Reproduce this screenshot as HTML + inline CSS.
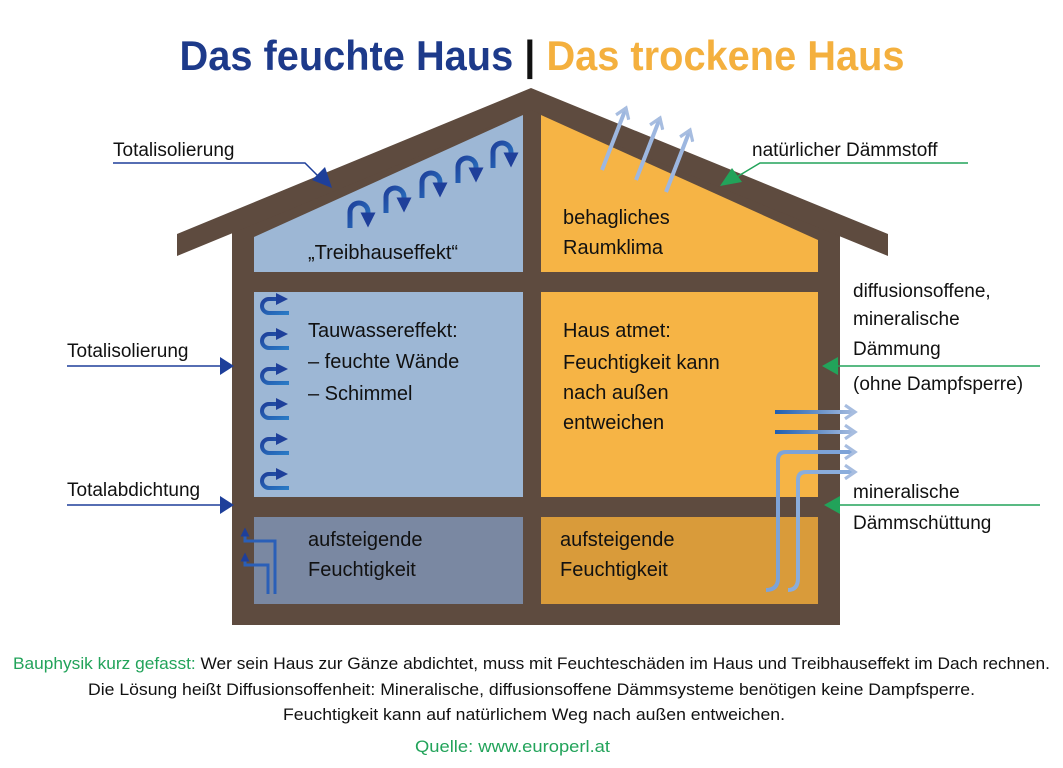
<!DOCTYPE html>
<html><head><meta charset="utf-8"><style>
html,body{margin:0;padding:0;background:#fff;}
svg{display:block;}
text{font-family:"Liberation Sans",sans-serif;}
</style></head><body>
<svg width="1063" height="768" viewBox="0 0 1063 768" xmlns="http://www.w3.org/2000/svg">
<defs>
<linearGradient id="gb" gradientUnits="userSpaceOnUse" x1="775" y1="0" x2="855" y2="0"><stop offset="0" stop-color="#1f5fb0"/><stop offset="1" stop-color="#a7bde0"/></linearGradient>
<linearGradient id="gc" x1="0" y1="0" x2="1" y2="1"><stop offset="0" stop-color="#1e3f9a"/><stop offset="1" stop-color="#2a7bc6"/></linearGradient>
<marker id="ac" markerWidth="3" markerHeight="3" refX="1.5" refY="1.5" orient="auto" markerUnits="strokeWidth"><path d="M0,0 L3,1.5 L0,3 Z" fill="#1e3f9a"/></marker>
<marker id="al" markerWidth="4" markerHeight="4" refX="3" refY="2" orient="auto" markerUnits="strokeWidth"><path d="M0.5,0.3 L3,2 L0.5,3.7" fill="none" stroke="#a7bde0" stroke-width="0.8"/></marker>
</defs>

<text x="542" y="70" text-anchor="middle" font-size="42" font-weight="bold" textLength="725" lengthAdjust="spacingAndGlyphs"><tspan fill="#1d3a8a">Das feuchte Haus </tspan><tspan fill="#111">| </tspan><tspan fill="#f4b03e">Das trockene Haus</tspan></text>

<polygon points="232,225 531,100 840,225 840,625 232,625" fill="#5e4b3f"/>
<polygon points="177,234 531,88 888,234 888,256 531,110 177,256" fill="#5e4b3f"/>
<polygon points="254,237 523,115 523,272 254,272" fill="#9db7d5"/>
<polygon points="541,115 818,240 818,272 541,272" fill="#f6b445"/>
<rect x="254" y="292" width="269" height="205" fill="#9db7d5"/>
<rect x="541" y="292" width="277" height="205" fill="#f6b445"/>
<rect x="254" y="517" width="269" height="87" fill="#7a88a2"/>
<rect x="541" y="517" width="277" height="87" fill="#d99b3a"/>

<g fill="none" stroke="url(#gc)" stroke-width="5">
<path d="M350,228 L350,212 A9,9 0 0 1 368,212 L368,220" marker-end="url(#ac)"/>
<path d="M386,213 L386,197 A9,9 0 0 1 404,197 L404,205" marker-end="url(#ac)"/>
<path d="M422,198 L422,182 A9,9 0 0 1 440,182 L440,190" marker-end="url(#ac)"/>
<path d="M458,183 L458,167 A9,9 0 0 1 476,167 L476,175" marker-end="url(#ac)"/>
<path d="M493,168 L493,152 A9,9 0 0 1 511,152 L511,160" marker-end="url(#ac)"/>
</g>
<g fill="none" stroke="url(#gc)" stroke-width="4">
<path d="M289,313 L269,313 A7,7 0 0 1 269,299 L282,299" marker-end="url(#ac)"/>
<path d="M289,348 L269,348 A7,7 0 0 1 269,334 L282,334" marker-end="url(#ac)"/>
<path d="M289,383 L269,383 A7,7 0 0 1 269,369 L282,369" marker-end="url(#ac)"/>
<path d="M289,418 L269,418 A7,7 0 0 1 269,404 L282,404" marker-end="url(#ac)"/>
<path d="M289,453 L269,453 A7,7 0 0 1 269,439 L282,439" marker-end="url(#ac)"/>
<path d="M289,488 L269,488 A7,7 0 0 1 269,474 L282,474" marker-end="url(#ac)"/>
</g>
<g fill="none" stroke="#2a5fb8" stroke-width="3">
<path d="M275,594 L275,541 L245,541 L245,532" marker-end="url(#ac)"/>
<path d="M268,594 L268,565 L245,565 L245,557" marker-end="url(#ac)"/>
</g>

<g fill="none" stroke="#9db7e0" stroke-width="4">
<path d="M602,170 L626,108" marker-end="url(#al)"/>
<path d="M636,180 L660,118" marker-end="url(#al)"/>
<path d="M666,192 L690,130" marker-end="url(#al)"/>
</g>
<g fill="none" stroke-width="4">
<path d="M775,412 L855,412" stroke="url(#gb)" marker-end="url(#al)"/>
<path d="M775,432 L855,432" stroke="url(#gb)" marker-end="url(#al)"/>
<path d="M766,590 Q778,590 778,578 L778,460 Q778,452 786,452 L855,452" stroke="#7da3d8" marker-end="url(#al)"/>
<path d="M788,590 Q798,590 798,578 L798,480 Q798,472 806,472 L855,472" stroke="#8aaddc" marker-end="url(#al)"/>
</g>

<g stroke="#1e3f9a" stroke-width="1.5" fill="none">
<path d="M113,163 L305,163 L322,180"/>
<path d="M67,366 L222,366"/>
<path d="M67,505 L222,505"/>
</g>
<polygon points="332,188 312,180 325,167" fill="#1e3f9a"/>
<polygon points="234,366 220,357 220,375" fill="#1e3f9a"/>
<polygon points="234,505 220,496 220,514" fill="#1e3f9a"/>
<g stroke="#22a35a" stroke-width="1.5" fill="none">
<path d="M968,163 L760,163 L735,178"/>
<path d="M1040,366 L835,366"/>
<path d="M1040,505 L835,505"/>
</g>
<polygon points="720,186 732,168 742,182" fill="#22a35a"/>
<polygon points="822,366 838,357 838,375" fill="#22a35a"/>
<polygon points="824,505 840,496 840,514" fill="#22a35a"/>

<g font-size="19" fill="#111">
<text x="113" y="156">Totalisolierung</text>
<text x="67" y="357">Totalisolierung</text>
<text x="67" y="496">Totalabdichtung</text>
<text x="752" y="156">natürlicher Dämmstoff</text>
<text x="853" y="297">diffusionsoffene,</text>
<text x="853" y="325">mineralische</text>
<text x="853" y="355">Dämmung</text>
<text x="853" y="390">(ohne Dampfsperre)</text>
<text x="853" y="498">mineralische</text>
<text x="853" y="529">Dämmschüttung</text>
</g>
<g font-size="20" fill="#111">
<text x="308" y="259">„Treibhauseffekt“</text>
<text x="563" y="224">behagliches</text>
<text x="563" y="254">Raumklima</text>
<text x="308" y="337">Tauwassereffekt:</text>
<text x="308" y="368">– feuchte Wände</text>
<text x="308" y="400">– Schimmel</text>
<text x="563" y="337">Haus atmet:</text>
<text x="563" y="369">Feuchtigkeit kann</text>
<text x="563" y="399">nach außen</text>
<text x="563" y="429">entweichen</text>
<text x="308" y="546">aufsteigende</text>
<text x="308" y="576">Feuchtigkeit</text>
<text x="560" y="546">aufsteigende</text>
<text x="560" y="576">Feuchtigkeit</text>
</g>

<g font-size="17" fill="#111">
<text x="13" y="669" textLength="1037" lengthAdjust="spacingAndGlyphs"><tspan fill="#22a35a">Bauphysik kurz gefasst:</tspan> Wer sein Haus zur Gänze abdichtet, muss mit Feuchteschäden im Haus und Treibhauseffekt im Dach rechnen.</text>
<text x="88" y="695" textLength="887" lengthAdjust="spacingAndGlyphs">Die Lösung heißt Diffusionsoffenheit: Mineralische, diffusionsoffene Dämmsysteme benötigen keine Dampfsperre.</text>
<text x="283" y="720" textLength="502" lengthAdjust="spacingAndGlyphs">Feuchtigkeit kann auf natürlichem Weg nach außen entweichen.</text>
<text x="415" y="752" textLength="195" lengthAdjust="spacingAndGlyphs" fill="#22a35a">Quelle: www.europerl.at</text>
</g>
</svg>
</body></html>
